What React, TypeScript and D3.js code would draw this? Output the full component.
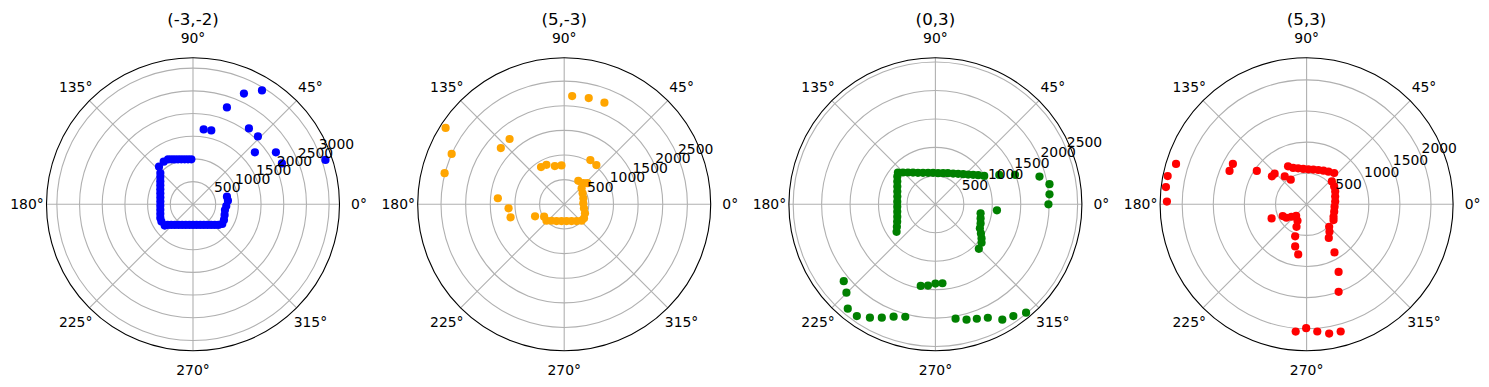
import React from "react";
import * as d3 from "d3";

// scan data: angle in degrees, range value
const titles = ["(-3,-2)", "(5,-3)", "(0,3)", "(5,3)"];
const colors = ["blue", "orange", "green", "red"];

const blueTheta = [58.8, 65.3, 70.7, 81.9, 76.1, 53.6, 46.3, 40.0, 32.1, 24.7, 18.5,
  92.1, 96.3, 100.5, 104.6, 108.4, 112.2, 115.7, 119.1, 124.5, 132.1,
  136.2, 140.2, 144.7, 149.7, 155.4, 161.6, 168.2, 175.2, 182.4, 189.5, 196.3, 202.6, 208.7, 217.0,
  219.1, 223.5, 228.7, 234.9, 242.2, 250.6, 260.0, 270, 280.0, 289.4, 297.8, 305.1, 311.3, 316.5, 320.9, 326.1,
  333.2, 341.4, 349.9, 357.1, 6.0, 12.7];
const blueR = [2934, 2686, 2262, 1667, 1678, 2077, 2070, 1780, 2156, 2157, 3078,
  991, 996, 1007, 1023, 1044, 1069, 1099, 1132, 1139, 1117,
  997, 937, 882, 834, 792, 759, 735, 722, 721, 730, 750, 780, 794, 780,
  722, 661, 606, 556, 514, 482, 462, 455, 462, 482, 514, 556, 606, 661, 722, 777,
  764, 735, 715, 734, 774, 767];

const orangeTheta = [85.8, 77.0, 68.4, 59.4, 50.6, 147.2, 155.9, 165.4, 129.9, 138.4, 174.8, 184.1, 193.7, 202.5,
  121.9, 114.2, 103.8, 94.0,
  211.7, 222.8, 232.2, 245.3, 260.9, 278.0, 293.7, 306.5, 316.7, 324.6,
  336.5, 348.5, 3.0, 17.5, 31.0, 42.7, 47.9, 42.4, 59.0];
const orangeR = [2203, 2213, 2217, 1042, 1029, 2863, 2502, 2508, 1728, 1720, 1352, 1132, 1120, 640,
  889, 879, 798, 791,
  479, 491, 422, 374, 344, 343, 371, 423, 486, 493,
  460, 409, 388, 407, 436, 481, 578, 635, 555];

const greenTheta = [139.7, 135.6, 130.8, 125.2, 119.0, 111.5, 103.1, 94.2, 85.1, 76.1, 68.2, 60.0, 53.2, 47.3, 42.2, 37.9, 34.2, 30.2,
  24.7, 20.3, 14.9, 10.0, 5.0, 0, 354.4,
  143.9, 149.2, 155.0, 161.6, 168.6, 176.0, 183.5, 190.9, 198.0, 204.4, 210.3, 215.3,
  348.7, 342.7, 337.1, 331.6, 327.4, 323.5, 320.2, 314.3,
  259.8, 264.8, 270, 275.1,
  220.0, 224.8, 230.0, 234.9, 240.0, 244.7, 249.6, 255.0,
  280.0, 285.1, 289.9, 294.8, 300.1, 304.9, 309.9];
const greenR = [864, 799, 738, 683, 632, 594, 568, 554, 549, 563, 589, 624, 668, 720, 778, 842, 910, 993,
  1236, 1492, 1893, 2036, 2013, 1987, 1087,
  829, 780, 739, 706, 683, 672, 672, 683, 705, 738, 784, 836,
  810, 832, 862, 889, 950, 1009, 1056, 1093,
  1458, 1435, 1394, 1393,
  2103, 2204, 2396, 2401, 2302, 2204, 2108, 2046,
  2042, 2101, 2139, 2197, 2345, 2395, 2484];

const redTheta = [162.8, 168.5, 173.0, 178.9, 151.3, 156.6, 146.2, 141.1, 136.2, 128.1, 122.8,
  116.0, 110.3, 103.2, 95.4, 87.2, 79.0, 71.1, 63.4, 56.2, 48.6,
  42.2, 32.9, 24.1, 15.1, 5.4, 355.2, 345.0, 335.2, 329.6,
  315.0, 309.7, 303.4, 300.1, 295.3, 290.1,
  265.1, 269.8, 274.8, 279.9, 285.0,
  202.0, 206.2, 213.7, 219.4, 227.6, 241.1, 245.9, 250.3, 254.8, 260.5];
const redR = [2197, 2279, 2278, 2246, 1351, 1350, 963, 716, 712, 570, 470,
  680, 623, 594, 571, 563, 568, 583, 605, 632, 671,
  548, 528, 504, 476, 462, 451, 459, 477, 502,
  513, 576, 648, 894, 1203, 1498,
  2053, 1991, 2052, 2109, 2117,
  607, 428, 390, 315, 249, 303, 397, 546, 701, 817];

const thetaSets = [blueTheta, orangeTheta, greenTheta, redTheta];
const rSets = [blueR, orangeR, greenR, redR];
const rMax = [3228, 2973, 2575, 2355];
const rTicks = [
  [500, 1000, 1500, 2000, 2500, 3000],
  [500, 1000, 1500, 2000, 2500],
  [500, 1000, 1500, 2000, 2500],
  [500, 1000, 1500, 2000],
];
const angleTicks = [0, 45, 90, 135, 180, 225, 270, 315];

const W = 1489;
const H = 387;
const R = 146.5;
const cx0 = 193;
const dx = 371.2;
const cy = 204.3;
const font = "DejaVu Sans, sans-serif";

const rad = (deg: number) => (deg * Math.PI) / 180;

const Panel = ({ i }: { i: number }) => {
  const cx = cx0 + i * dx;
  const r = d3.scaleLinear().domain([0, rMax[i]]).range([0, R]);
  const pt = (deg: number, v: number): [number, number] => [
    r(v) * Math.cos(rad(deg)),
    -r(v) * Math.sin(rad(deg)),
  ];
  const th = thetaSets[i];
  const rs = rSets[i];
  return (
    <g transform={`translate(${cx},${cy})`}>
      <circle r={R} fill="white" />
      {rTicks[i].map((t) => (
        <circle key={t} r={r(t)} fill="none" stroke="#b0b0b0" strokeWidth={1.1} />
      ))}
      {angleTicks.map((a) => {
        const [x, y] = pt(a, rMax[i]);
        return <line key={a} x1={0} y1={0} x2={x} y2={y} stroke="#b0b0b0" strokeWidth={1.1} />;
      })}
      {th.map((a, j) => {
        const [x, y] = pt(a, rs[j]);
        return <circle key={j} cx={x} cy={y} r={4.1} fill={colors[i]} />;
      })}
      <circle r={R} fill="none" stroke="black" strokeWidth={1.1} />
      {angleTicks.map((a) => {
        const x = 166 * Math.cos(rad(a));
        const y = -166 * Math.sin(rad(a));
        return (
          <text key={a} x={x} y={y} textAnchor="middle" dominantBaseline="central"
            fontFamily={font} fontSize={13.9}>{`${a}°`}</text>
        );
      })}
      {rTicks[i].map((t) => {
        const [x, y] = pt(22.5, t);
        return (
          <text key={t} x={x} y={y - 3.3} textAnchor="start" fontFamily={font} fontSize={13.9}>{t}</text>
        );
      })}
      <text x={0} y={18.5 - cy} textAnchor="middle" dominantBaseline="central"
        fontFamily={font} fontSize={16.7}>{titles[i]}</text>
    </g>
  );
};

export default function App() {
  return (
    <svg width={W} height={H} style={{ position: "absolute", left: 0, top: 0, background: "white" }}>
      <rect width={W} height={H} fill="white" />
      {titles.map((_, i) => (
        <Panel key={i} i={i} />
      ))}
    </svg>
  );
}
